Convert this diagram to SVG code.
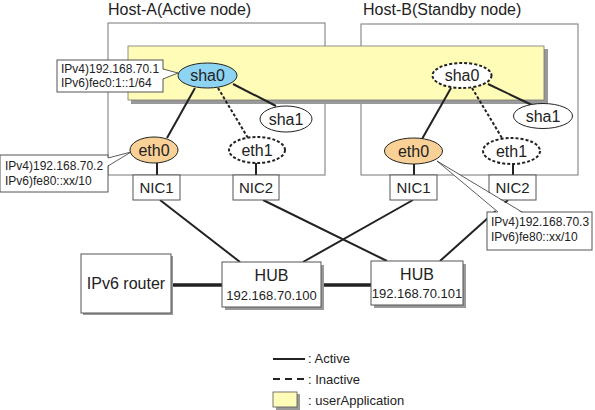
<svg xmlns="http://www.w3.org/2000/svg" width="595" height="410" viewBox="0 0 595 410">
<defs>
<style>
text{font-family:"Liberation Sans",Arial,sans-serif;fill:#222}
.host{fill:#fff;stroke:#777;stroke-width:1}
.box{fill:#fff;stroke:#555;stroke-width:1}
.shadow{fill:#999}
.solid{stroke:#222;stroke-width:2;fill:none}
.dash{stroke:#222;stroke-width:2;stroke-dasharray:3,2;fill:none}
.thick{stroke:#222;stroke-width:3.5;fill:none}
.thin{stroke:#333;stroke-width:0.8;fill:none}
.n{font-size:16px;text-anchor:middle}
.nic{font-size:15px;text-anchor:middle}
.lbl{font-size:12px}
.leg{font-size:13px}
.ell{fill:#fff;stroke:#222;stroke-width:1}
.ellD{fill:#fff;stroke:#222;stroke-width:2;stroke-dasharray:3,2}
</style>
</defs>
<rect width="595" height="410" fill="#fff"/>
<text x="108" y="15" font-size="16">Host-A(Active node)</text>
<text x="363" y="15" font-size="16">Host-B(Standby node)</text>
<g id="hostA"><rect class="host" x="108" y="23" width="217" height="152"/></g>
<g id="hostB"><rect class="host" x="361" y="24" width="217" height="151"/></g>
<g id="userApplication">
<rect class="shadow" x="131" y="49" width="417" height="55"/>
<rect x="128" y="46" width="416" height="54" fill="#FFFCB8" stroke="#777" stroke-width="0.8"/>
</g>
<g id="connectors">
<line class="solid" x1="195" y1="88" x2="167" y2="138"/>
<line class="dash" x1="218" y1="88" x2="248" y2="138"/>
<line class="solid" x1="233" y1="84" x2="276" y2="106"/>
<line class="solid" x1="157" y1="163" x2="157" y2="175"/>
<line class="solid" x1="256" y1="163" x2="256" y2="175"/>
<line class="solid" x1="451" y1="88" x2="422" y2="139"/>
<line class="dash" x1="472" y1="88" x2="502" y2="138"/>
<line class="solid" x1="488" y1="84" x2="532" y2="105"/>
<line class="solid" x1="414" y1="164" x2="414" y2="175"/>
<line class="solid" x1="513" y1="164" x2="513" y2="175"/>
<line class="solid" x1="160" y1="200" x2="240" y2="262"/>
<line class="solid" x1="263" y1="200" x2="387" y2="261"/>
<line class="solid" x1="413" y1="200" x2="303" y2="262"/>
<line class="solid" x1="508" y1="200" x2="440" y2="261"/>
<line class="thick" x1="171" y1="285" x2="222" y2="285"/>
<line class="thick" x1="321" y1="285" x2="371" y2="285"/>
</g>
<g id="sha0A"><ellipse cx="207.5" cy="75.5" rx="29.5" ry="12.5" fill="#8DD3F2" stroke="#222" stroke-width="1"/><text class="n" x="207.5" y="81">sha0</text></g>
<g id="sha1A"><ellipse class="ell" cx="286" cy="119" rx="26" ry="13"/><text class="n" x="286" y="124.5">sha1</text></g>
<g id="eth0A"><ellipse cx="154" cy="150" rx="24" ry="13" fill="#F9D196" stroke="#222" stroke-width="1"/><text class="n" x="154" y="155.5">eth0</text></g>
<g id="eth1A"><ellipse class="ellD" cx="257" cy="150" rx="28" ry="13"/><text class="n" x="257" y="155.5">eth1</text></g>
<g id="nic1A"><rect class="box" x="133" y="175" width="47" height="25"/><text class="nic" x="156.5" y="193">NIC1</text></g>
<g id="nic2A"><rect class="box" x="233" y="175" width="46" height="25"/><text class="nic" x="256" y="193">NIC2</text></g>
<g id="sha0B"><ellipse class="ellD" cx="462" cy="75.5" rx="29.5" ry="12.5"/><text class="n" x="462" y="81">sha0</text></g>
<g id="sha1B"><ellipse class="ell" cx="543" cy="116" rx="29.5" ry="12.5"/><text class="n" x="543" y="121.5">sha1</text></g>
<g id="eth0B"><ellipse cx="413.5" cy="151" rx="29" ry="13" fill="#F9D196" stroke="#222" stroke-width="1"/><text class="n" x="413.5" y="156.5">eth0</text></g>
<g id="eth1B"><ellipse class="ellD" cx="511.5" cy="151" rx="28.5" ry="13"/><text class="n" x="511.5" y="156.5">eth1</text></g>
<g id="nic1B"><rect class="box" x="390" y="175" width="47" height="25"/><text class="nic" x="413.5" y="193">NIC1</text></g>
<g id="nic2B"><rect class="box" x="489" y="175" width="47" height="25"/><text class="nic" x="512.5" y="193">NIC2</text></g>
<g id="calloutSha0A">
<rect class="box" x="57" y="60" width="106" height="32"/>
<polygon points="162,69 178,73 162,79" fill="#fff" stroke="none"/>
<polyline class="thin" points="163,69 178,73 163,79"/>
<text class="lbl" x="61" y="73">IPv4)192.168.70.1</text>
<text class="lbl" x="61" y="87">IPv6)fec0:1::1/64</text>
</g>
<g id="calloutEth0A">
<rect class="box" x="0" y="155" width="108" height="37"/>
<polygon points="107,158 131,152 107,166" fill="#fff" stroke="none"/>
<polyline class="thin" points="108,158 131,152 108,166"/>
<text class="lbl" x="5" y="170">IPv4)192.168.70.2</text>
<text class="lbl" x="5" y="185">IPv6)fe80::xx/10</text>
</g>
<g id="calloutEth0B">
<rect class="box" x="487" y="212" width="105" height="38"/>
<polygon points="498,213 437,161 522,213" fill="#fff" stroke="none"/>
<polyline class="thin" points="498,212 437,161 522,212"/>
<text class="lbl" x="491" y="226">IPv4)192.168.70.3</text>
<text class="lbl" x="491" y="241">IPv6)fe80::xx/10</text>
</g>
<g id="router">
<rect class="shadow" x="83" y="256" width="90" height="59"/>
<rect class="box" x="81" y="254" width="90" height="59"/>
<text x="126" y="289" font-size="16" text-anchor="middle">IPv6 router</text>
</g>
<g id="hub1">
<rect class="shadow" x="225" y="265" width="99" height="45"/>
<rect class="box" x="222" y="262" width="99" height="45"/>
<text x="271.5" y="281" font-size="16" text-anchor="middle">HUB</text>
<text x="271.5" y="300" font-size="13" text-anchor="middle">192.168.70.100</text>
</g>
<g id="hub2">
<rect class="shadow" x="374" y="264" width="92" height="44"/>
<rect class="box" x="371" y="261" width="92" height="44"/>
<text x="417" y="280" font-size="16" text-anchor="middle">HUB</text>
<text x="417" y="298" font-size="13" text-anchor="middle">192.168.70.101</text>
</g>
<g id="legend">
<line class="solid" x1="273" y1="359" x2="305" y2="359"/>
<text class="leg" x="308" y="363">: Active</text>
<line x1="273" y1="379" x2="305" y2="379" stroke="#222" stroke-width="2" stroke-dasharray="7,5"/>
<text class="leg" x="308" y="384">: Inactive</text>
<rect class="shadow" x="276" y="394" width="24" height="16"/>
<rect x="273" y="392" width="24" height="15" fill="#FFFCB8" stroke="#555" stroke-width="0.8"/>
<text class="leg" x="308" y="405">: userApplication</text>
</g>
</svg>
